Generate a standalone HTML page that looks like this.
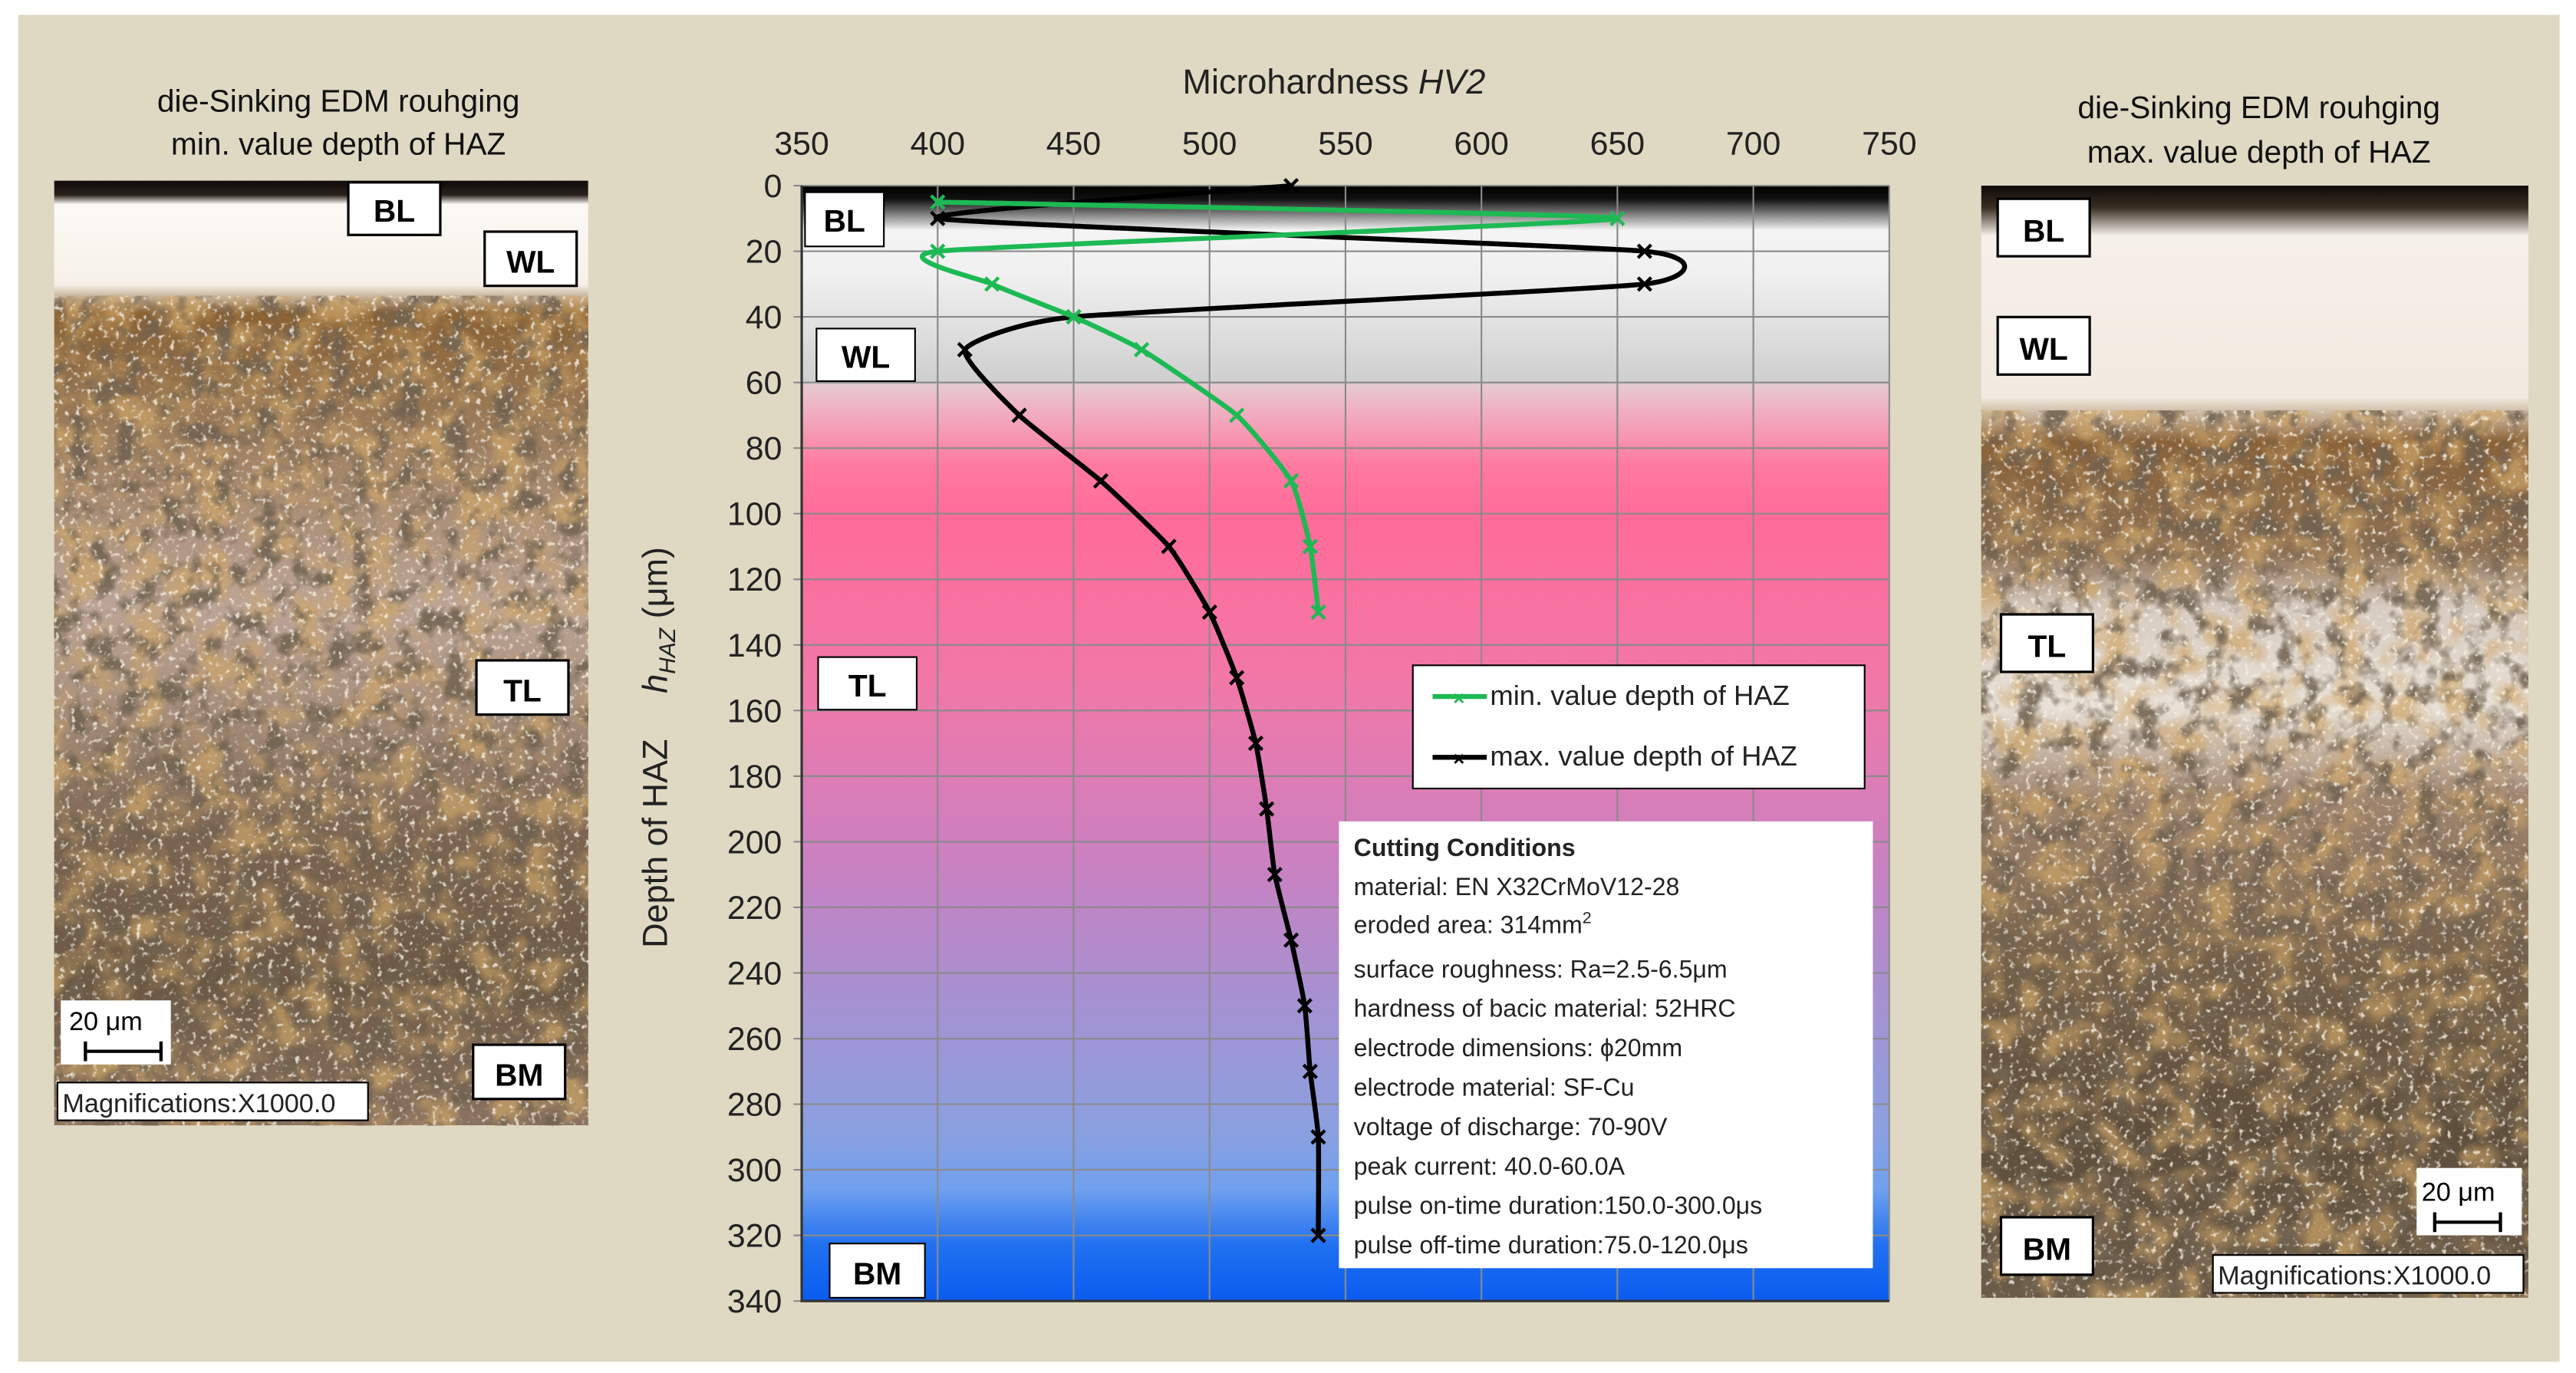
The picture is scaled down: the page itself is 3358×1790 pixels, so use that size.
<!DOCTYPE html>
<html><head><meta charset="utf-8"><style>
html,body{margin:0;padding:0;background:#fff;}
svg{display:block;}
text{font-family:"Liberation Sans",sans-serif;}
</style></head><body>
<svg width="3358" height="1790" viewBox="0 0 1568 835.8" xmlns="http://www.w3.org/2000/svg">
<defs>
<filter id="dark" x="0" y="0" width="100%" height="100%">
<feTurbulence type="fractalNoise" baseFrequency="0.07" numOctaves="3" seed="4"/>
<feColorMatrix type="matrix" values="0 0 0 0 0.16  0 0 0 0 0.12  0 0 0 0 0.08  4 0 0 0 -1.9"/>
</filter>
<filter id="brown" x="0" y="0" width="100%" height="100%">
<feTurbulence type="fractalNoise" baseFrequency="0.05" numOctaves="2" seed="11"/>
<feColorMatrix type="matrix" values="0 0 0 0 0.62  0 0 0 0 0.38  0 0 0 0 0.14  0 3.5 0 0 -1.5"/>
</filter>
<filter id="light" x="0" y="0" width="100%" height="100%">
<feTurbulence type="fractalNoise" baseFrequency="0.3" numOctaves="2" seed="9"/>
<feColorMatrix type="matrix" values="0 0 0 0 0.95  0 0 0 0 0.9  0 0 0 0 0.8  5 0 0 0 -2.9"/>
</filter>
<linearGradient id="lp" x1="0" y1="0" x2="0" y2="1">
<stop offset="0" stop-color="#0e0a08"/><stop offset="0.015" stop-color="#2a221c"/>
<stop offset="0.025" stop-color="#fcfaf6"/><stop offset="0.11" stop-color="#f6f0e8"/>
<stop offset="0.14" stop-color="#8a6234"/><stop offset="0.25" stop-color="#9a7a58"/>
<stop offset="0.45" stop-color="#bba496"/><stop offset="0.55" stop-color="#a8907e"/>
<stop offset="0.7" stop-color="#7a6450"/><stop offset="0.85" stop-color="#6a5844"/>
<stop offset="1" stop-color="#8a7260"/></linearGradient>
<linearGradient id="rp" x1="0" y1="0" x2="0" y2="1">
<stop offset="0" stop-color="#0e0a08"/><stop offset="0.02" stop-color="#3a2e22"/>
<stop offset="0.045" stop-color="#f6f0ea"/><stop offset="0.19" stop-color="#f2eae0"/>
<stop offset="0.23" stop-color="#8a6238"/><stop offset="0.33" stop-color="#8c7054"/>
<stop offset="0.38" stop-color="#d8ccc2"/><stop offset="0.47" stop-color="#e8e0d6"/>
<stop offset="0.55" stop-color="#a08670"/><stop offset="0.7" stop-color="#756048"/>
<stop offset="0.85" stop-color="#5e4e3c"/><stop offset="1" stop-color="#6a5a48"/></linearGradient>
<linearGradient id="plotbg" x1="0" y1="0" x2="0" y2="1">
<stop offset="0" stop-color="#000"/><stop offset="0.012" stop-color="#111"/>
<stop offset="0.04" stop-color="#f4f4f4"/><stop offset="0.08" stop-color="#f0f0f0"/>
<stop offset="0.175" stop-color="#cfcfcf"/><stop offset="0.18" stop-color="#e8c8d0"/>
<stop offset="0.25" stop-color="#ff7aa0"/><stop offset="0.3" stop-color="#ff6b99"/>
<stop offset="0.45" stop-color="#f078a8"/><stop offset="0.6" stop-color="#cc80c0"/>
<stop offset="0.72" stop-color="#a890d0"/><stop offset="0.85" stop-color="#8aa0e0"/>
<stop offset="0.9" stop-color="#70a0ee"/><stop offset="0.95" stop-color="#2070f0"/>
<stop offset="1" stop-color="#0a5cf0"/></linearGradient>
</defs>
<rect x="0" y="0" width="1568" height="835.8" fill="#fff"/>
<rect x="11" y="9" width="1547" height="820" fill="#dfd9c3"/>

<g>
<text x="206" y="68" font-size="19" text-anchor="middle" fill="#111">die-Sinking EDM rouhging</text>
<text x="206" y="94" font-size="19" text-anchor="middle" fill="#111">min. value depth of HAZ</text>
<rect x="33" y="110" width="325" height="575" fill="url(#lp)"/>
<rect x="33" y="180" width="325" height="505" filter="url(#brown)" opacity="0.7"/>
<rect x="33" y="180" width="325" height="505" filter="url(#dark)" opacity="0.85"/>
<rect x="33" y="180" width="325" height="505" filter="url(#light)" opacity="0.8"/>
<g><rect x="212" y="111" width="56" height="32" fill="#fff" stroke="#000" stroke-width="1.5"/><text x="240" y="135" font-size="19" font-weight="bold" text-anchor="middle">BL</text></g>
<g><rect x="295" y="141" width="56" height="33" fill="#fff" stroke="#000" stroke-width="1.5"/><text x="323" y="166" font-size="19" font-weight="bold" text-anchor="middle">WL</text></g>
<g><rect x="290" y="402" width="56" height="33" fill="#fff" stroke="#000" stroke-width="1.5"/><text x="318" y="427" font-size="19" font-weight="bold" text-anchor="middle">TL</text></g>
<g><rect x="288" y="636" width="56" height="33" fill="#fff" stroke="#000" stroke-width="1.5"/><text x="316" y="661" font-size="19" font-weight="bold" text-anchor="middle">BM</text></g>
<g><rect x="37" y="609" width="67" height="39" fill="#fff"/><text x="42" y="627" font-size="16">20 μm</text><path d="M52 640 H98 M52 634 V646 M98 634 V646" stroke="#000" stroke-width="2"/></g>
<g><rect x="35" y="659" width="189" height="23" fill="#fff" stroke="#000"/><text x="38" y="677" font-size="16" fill="#222">Magnifications:X1000.0</text></g>
</g>

<g>
<text x="1375" y="72" font-size="19" text-anchor="middle" fill="#111">die-Sinking EDM rouhging</text>
<text x="1375" y="99" font-size="19" text-anchor="middle" fill="#111">max. value depth of HAZ</text>
<rect x="1206" y="113" width="333" height="677" fill="url(#rp)"/>
<rect x="1206" y="250" width="333" height="540" filter="url(#brown)" opacity="0.7"/>
<rect x="1206" y="250" width="333" height="540" filter="url(#dark)" opacity="0.85"/>
<rect x="1206" y="250" width="333" height="540" filter="url(#light)" opacity="0.8"/>
<g><rect x="1216" y="121" width="56" height="35" fill="#fff" stroke="#000" stroke-width="1.5"/><text x="1244" y="147" font-size="19" font-weight="bold" text-anchor="middle">BL</text></g>
<g><rect x="1216" y="193" width="56" height="35" fill="#fff" stroke="#000" stroke-width="1.5"/><text x="1244" y="219" font-size="19" font-weight="bold" text-anchor="middle">WL</text></g>
<g><rect x="1218" y="374" width="56" height="35" fill="#fff" stroke="#000" stroke-width="1.5"/><text x="1246" y="400" font-size="19" font-weight="bold" text-anchor="middle">TL</text></g>
<g><rect x="1218" y="741" width="56" height="35" fill="#fff" stroke="#000" stroke-width="1.5"/><text x="1246" y="767" font-size="19" font-weight="bold" text-anchor="middle">BM</text></g>
<g><rect x="1471" y="711" width="64" height="41" fill="#fff"/><text x="1474" y="731" font-size="16">20 μm</text><path d="M1482 744 H1522 M1482 738 V750 M1522 738 V750" stroke="#000" stroke-width="2"/></g>
<g><rect x="1347" y="764" width="189" height="23" fill="#fff" stroke="#000"/><text x="1350" y="782" font-size="16" fill="#222">Magnifications:X1000.0</text></g>
</g>

<g id="chart">
<rect x="488" y="113" width="662" height="679" fill="url(#plotbg)"/>
<g id="grid"></g>
<g id="axes"></g>
<g id="series"></g>
<text x="812" y="57" font-size="21" text-anchor="middle" fill="#222">Microhardness <tspan font-style="italic">HV2</tspan></text>
<text transform="translate(406,455) rotate(-90)" font-size="21" text-anchor="middle" fill="#222">Depth of HAZ <tspan dx="22" font-style="italic">h</tspan><tspan font-style="italic" font-size="14" dy="5">HAZ</tspan><tspan dy="-5"> (μm)</tspan></text>
<g><rect x="490" y="117" width="48" height="33" fill="#fff" stroke="#000"/><text x="514" y="141" font-size="19" font-weight="bold" text-anchor="middle">BL</text></g>
<g><rect x="497" y="200" width="60" height="32" fill="#fff" stroke="#000"/><text x="527" y="224" font-size="19" font-weight="bold" text-anchor="middle">WL</text></g>
<g><rect x="498" y="400" width="60" height="32" fill="#fff" stroke="#000"/><text x="528" y="424" font-size="19" font-weight="bold" text-anchor="middle">TL</text></g>
<g><rect x="505" y="757" width="58" height="33" fill="#fff" stroke="#000"/><text x="534" y="782" font-size="19" font-weight="bold" text-anchor="middle">BM</text></g>
<g>
<rect x="860" y="405" width="275" height="75" fill="#fff" stroke="#000"/>
<g><line x1="872" y1="424" x2="905" y2="424" stroke="#1db954" stroke-width="3"/><text x="888" y="429" font-size="12" fill="#1db954" text-anchor="middle" font-weight="bold">×</text><text x="907" y="429" font-size="17" fill="#222">min. value depth of HAZ</text></g>
<g><line x1="872" y1="461" x2="905" y2="461" stroke="#000" stroke-width="3"/><text x="888" y="466" font-size="12" text-anchor="middle" font-weight="bold">×</text><text x="907" y="466" font-size="17" fill="#222">max. value depth of HAZ</text></g>
</g>
<g>
<rect x="815" y="500" width="325" height="272" fill="#fff"/>
<g font-size="15" fill="#222" font-family="'DejaVu Sans Condensed','Liberation Sans Narrow','Liberation Sans',sans-serif">
<text x="824" y="521" font-weight="bold">Cutting Conditions</text>
<text x="824" y="545">material: EN X32CrMoV12-28</text>
<text x="824" y="568">eroded area: 314mm<tspan font-size="10" dy="-6">2</tspan></text>
<text x="824" y="595">surface roughness:  Ra=2.5-6.5μm</text>
<text x="824" y="619">hardness of bacic material: 52HRC</text>
<text x="824" y="643">electrode dimensions: ϕ20mm</text>
<text x="824" y="667">electrode material: SF-Cu</text>
<text x="824" y="691">voltage of discharge:  70-90V</text>
<text x="824" y="715">peak current: 40.0-60.0A</text>
<text x="824" y="739">pulse on-time duration:150.0-300.0μs</text>
<text x="824" y="763">pulse off-time duration:75.0-120.0μs</text>
</g></g>
</g>
</svg>
<script>
const xTicks = [350,400,450,500,550,600,650,700,750];
const yTicks = [0,20,40,60,80,100,120,140,160,180,200,220,240,260,280,300,320,340];
const minDepth = [5,10,20,30,40,50,70,90,110,130];
const minHV = [400,650,400,420,450,475,510,530,537,540];
const maxDepth = [0,10,20,30,40,50,70,90,110,130,150,170,190,210,230,250,270,290,320];
const maxHV = [530,400,660,660,450,410,430,460,485,500,510,517,521,524,530,535,537,540,540];

const NS='http://www.w3.org/2000/svg';
const X0=488,X1=1150,Y0=113,Y1=792;
const xs=v=>X0+(v-350)/(750-350)*(X1-X0);
const ys=d=>Y0+d/340*(Y1-Y0);
function mk(tag,attrs,parent){const e=document.createElementNS(NS,tag);for(const k in attrs)e.setAttribute(k,attrs[k]);parent.appendChild(e);return e;}
const grid=document.getElementById('grid'),axes=document.getElementById('axes'),series=document.getElementById('series');
xTicks.forEach(v=>{
  const l=mk('line',{x1:xs(v),x2:xs(v),y1:Y0,y2:Y1,stroke:'#8a8a8a','stroke-width':1},grid);
  
  
  const t=mk('text',{x:xs(v),y:94,'font-size':20,'text-anchor':'middle',fill:'#222'},axes);
  t.textContent=v;
  
  
});
yTicks.forEach(d=>{
  const l=mk('line',{x1:X0-5,x2:X1,y1:ys(d),y2:ys(d),stroke:'#8a8a8a','stroke-width':1},grid);
  
  
  const t=mk('text',{x:X0-12,y:ys(d)+7,'font-size':20,'text-anchor':'end',fill:'#222'},axes);
  t.textContent=d;
  
  
});
const ax=mk('path',{d:`M${X0} ${Y0} V${Y1} H${X1}`,stroke:'#333','stroke-width':1.5,fill:'none'},axes);


function smooth(pts){
  let d=`M${pts[0][0]} ${pts[0][1]}`;
  for(let i=0;i<pts.length-1;i++){
    const p0=pts[i-1]||pts[i],p1=pts[i],p2=pts[i+1],p3=pts[i+2]||p2,t=1/12;
    d+=` C${p1[0]+(p2[0]-p0[0])*t} ${p1[1]+(p2[1]-p0[1])*t} ${p2[0]-(p3[0]-p1[0])*t} ${p2[1]-(p3[1]-p1[1])*t} ${p2[0]} ${p2[1]}`;
  }
  return d;
}
function draw(hv,dep,color,name){
  const pts=hv.map((v,i)=>[xs(v),ys(dep[i])]);
  const p=mk('path',{d:smooth(pts),stroke:color,'stroke-width':3,fill:'none'},series);
  
  
  pts.forEach(q=>{
    const m=mk('path',{d:`M${q[0]-4} ${q[1]-4}L${q[0]+4} ${q[1]+4}M${q[0]-4} ${q[1]+4}L${q[0]+4} ${q[1]-4}`,stroke:color,'stroke-width':2},series);
    
    
  });
}
draw(maxHV,maxDepth,'#000','max-series');
draw(minHV,minDepth,'#1db954','min-series');
</script>
</body></html>
